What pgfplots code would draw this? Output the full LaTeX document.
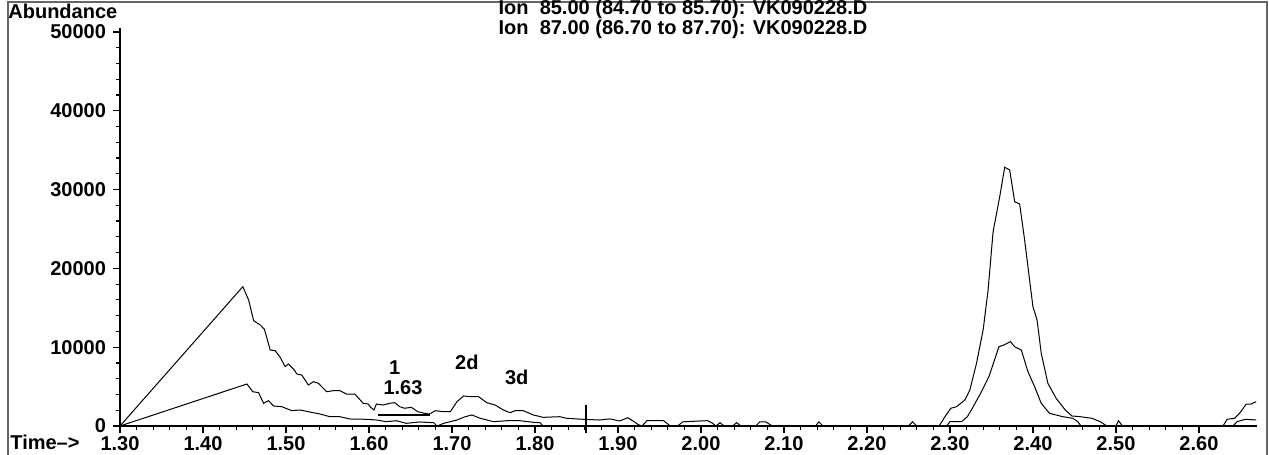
\documentclass[border=0pt]{standalone}
\usepackage{fontspec}
\setmainfont{Liberation Sans}
\usepackage{pgfplots}
\pgfplotsset{compat=1.18}
\pgfplotstableread{
t v
1.300 0
1.448 17680
1.455 15990
1.461 13360
1.469 12820
1.474 12270
1.481 9640
1.487 9560
1.493 8720
1.499 7530
1.503 7870
1.510 7110
1.513 6600
1.519 6470
1.527 5200
1.533 5620
1.539 5420
1.549 4350
1.557 4480
1.565 4480
1.573 4060
1.583 4060
1.593 2880
1.599 2790
1.602 2370
1.606 2030
1.609 2790
1.617 2660
1.625 2880
1.631 2960
1.637 2450
1.643 2250
1.651 2370
1.659 1810
1.667 1610
1.673 1520
1.680 1940
1.690 1810
1.698 1810
1.706 3080
1.714 3810
1.722 3720
1.732 3720
1.742 2960
1.752 2660
1.762 2030
1.770 1690
1.776 1940
1.786 1940
1.798 1400
1.810 1100
1.830 1180
1.838 980
1.858 850
1.878 760
1.890 900
1.902 640
1.912 1050
1.925 150
1.929 0
1.935 680
1.955 680
1.963 0
1.972 0
1.978 530
2.008 680
2.013 420
2.018 0
2.023 420
2.028 0
2.038 0
2.043 420
2.048 0
2.066 0
2.071 530
2.078 530
2.086 0
2.138 0
2.142 530
2.147 0
2.250 0
2.255 530
2.260 0
2.287 0
2.294 1180
2.301 2250
2.308 2450
2.318 3300
2.324 4570
2.332 7950
2.340 12180
2.346 17260
2.352 24660
2.360 29100
2.366 32830
2.372 32490
2.378 28460
2.384 28170
2.390 23600
2.396 18530
2.400 15140
2.405 13450
2.410 9230
2.418 5420
2.428 3510
2.439 2030
2.447 1270
2.457 1180
2.471 980
2.481 550
2.489 0
2.500 0
2.503 670
2.508 0
2.629 0
2.634 850
2.643 980
2.649 1610
2.657 2790
2.663 2790
2.669 3090
}\ionA
\pgfplotstableread{
t v
1.300 0
1.453 5330
1.460 4350
1.467 4230
1.473 2880
1.479 3210
1.485 2540
1.495 2450
1.507 1940
1.517 2030
1.527 1810
1.541 1520
1.553 1180
1.565 1180
1.577 890
1.597 850
1.609 760
1.621 550
1.633 670
1.645 340
1.661 510
1.678 420
1.682 0
1.690 340
1.706 760
1.716 1180
1.724 1400
1.734 980
1.750 550
1.766 670
1.782 670
1.798 470
1.806 420
1.810 0
2.296 0
2.300 550
2.314 550
2.321 1180
2.327 2250
2.337 4150
2.347 6260
2.359 10060
2.365 10280
2.373 10700
2.378 10060
2.386 9640
2.394 6890
2.402 4990
2.410 2880
2.420 1610
2.436 1180
2.448 980
2.454 550
2.458 0
2.641 0
2.646 550
2.656 850
2.669 760
}\ionB
\begin{document}
\begin{tikzpicture}
\useasboundingbox (0,0) rectangle (634.5pt,227.5pt);
\draw[black!60, line width=1pt] (3.75pt,0) -- (3.75pt,226.25pt) -- (633.5pt,226.25pt) -- (633.5pt,0);
\begin{axis}[
  scale only axis, width=568.5pt, height=199pt,
  at={(60pt,14.5pt)}, anchor=south west,
  xmin=1.30, xmax=2.67, ymin=0, ymax=50500,
  axis x line=bottom, axis y line=left,
  axis line style={-, line width=0.8pt},
  scaled y ticks=false,
  xtick={1.3,1.4,1.5,1.6,1.7,1.8,1.9,2.0,2.1,2.2,2.3,2.4,2.5,2.6},
  xticklabels={1.30,1.40,1.50,1.60,1.70,1.80,1.90,2.00,2.10,2.20,2.30,2.40,2.50,2.60},
  ytick={0,10000,20000,30000,40000,50000},
  yticklabels={0,10000,20000,30000,40000,50000},
  minor x tick num=4, minor y tick num=4,
  tick align=outside, major tick length=3.5pt, minor tick length=2pt,
  tick style={black, line width=0.6pt},
  tick label style={font=\bfseries},
  xticklabel style={yshift=2pt},
  clip=false,
]
\addplot[black, line width=0.5pt, no markers, sharp plot] table[x=t,y=v] {\ionA};
\addplot[black, line width=0.5pt, no markers, sharp plot] table[x=t,y=v] {\ionB};
\addplot[black, line width=1.1pt, no markers] coordinates {(1.611,1420) (1.673,1420)};
\addplot[black, line width=1pt, no markers] coordinates {(1.861,-900) (1.861,2700)};
\node[font=\bfseries] at (axis cs:1.631,7360) {1};
\node[font=\bfseries] at (axis cs:1.641,4820) {1.63};
\node[font=\bfseries] at (axis cs:1.718,8120) {2d};
\node[font=\bfseries] at (axis cs:1.778,6220) {3d};
\end{axis}
\node[anchor=base west, inner sep=0, font=\bfseries] at (4pt,218pt) {Abundance};
\node[anchor=north, inner sep=0, align=center, font=\bfseries\fontsize{10pt}{8.5pt}\selectfont] at (341.5pt,227.8pt) {Ion\ \ 85.00 (84.70 to 85.70): VK090228.D\\Ion\ \ 87.00 (86.70 to 87.70): VK090228.D};
\node[anchor=base west, inner sep=0, font=\bfseries] at (5pt,2.5pt) {Time–>};
\end{tikzpicture}
\end{document}
